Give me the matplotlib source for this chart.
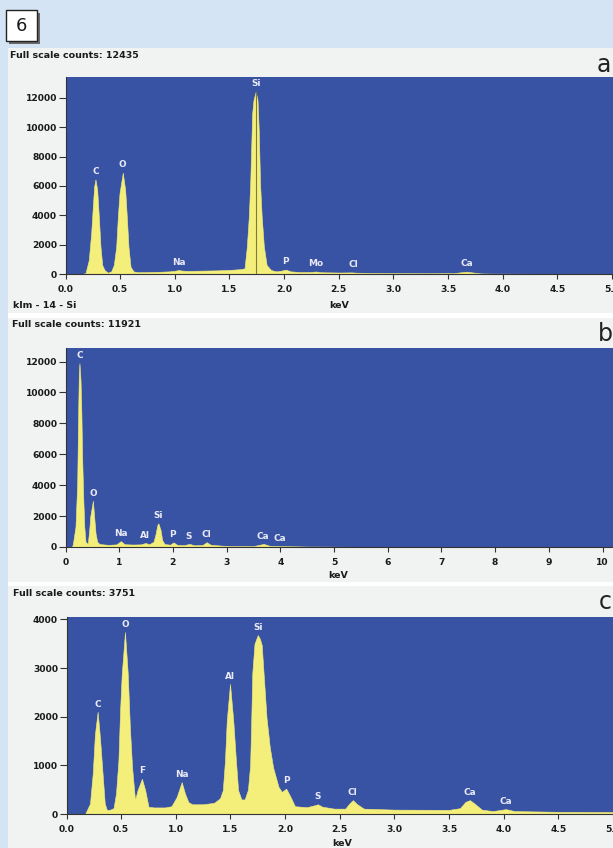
import numpy as np
import matplotlib
matplotlib.use("Agg")
import matplotlib.pyplot as plt
from matplotlib.patches import Rectangle

# ---------------- data ----------------
# Panel a : klm - 14 - Si
a_full_scale = 12435
a_energy = [0.00, 0.15, 0.183, 0.213, 0.235, 0.25, 0.262, 0.274, 0.29, 0.305, 0.32, 0.336, 0.357, 0.387,
            0.418, 0.442, 0.464, 0.479, 0.494, 0.524, 0.546, 0.561, 0.576, 0.595, 0.622, 0.66,
            0.75, 0.85, 0.95, 1.00, 1.035, 1.07, 1.12, 1.25, 1.40, 1.52, 1.60, 1.638,
            1.659, 1.677, 1.69, 1.708, 1.72, 1.74, 1.757, 1.768, 1.78, 1.795, 1.815, 1.84, 1.88, 1.93,
            1.97, 2.015, 2.06, 2.15, 2.25, 2.29, 2.34, 2.50, 2.62, 2.66, 2.80, 3.00, 3.30, 3.55,
            3.62, 3.67, 3.72, 3.80, 3.90, 4.10, 4.50, 5.00, 5.60]
a_counts = [0, 0, 60, 955, 2775, 4590, 5950, 6450, 5725, 3905, 1860, 615, 270, 90,
            180, 615, 1860, 3905, 5500, 6905, 5725, 3905, 1860, 500, 180, 120,
            130, 150, 180, 220, 270, 230, 210, 230, 250, 290, 330, 385,
            1860, 3905, 6180, 10950, 11860, 12430, 11860, 9800, 6180, 3905, 1860, 615, 270, 180,
            220, 300, 180, 130, 140, 170, 120, 100, 110, 90, 70, 60, 50, 60,
            120, 160, 110, 40, 25, 20, 12, 8, 5]
a_labels = ["C", "O", "Na", "Si", "P", "Mo", "Cl", "Ca"]
a_label_energy = [0.274, 0.524, 1.035, 1.74, 2.015, 2.29, 2.635, 3.67]
a_marker_energy = 1.74
a_x_ticks = [0.0, 0.5, 1.0, 1.5, 2.0, 2.5, 3.0, 3.5, 4.0, 4.5, 5.0]
a_y_ticks = [0, 2000, 4000, 6000, 8000, 10000, 12000]

# Panel b
b_full_scale = 11921
b_energy = [0.00, 0.12, 0.137, 0.186, 0.218, 0.236, 0.248, 0.26, 0.28, 0.296, 0.31, 0.33, 0.35,
            0.373, 0.415, 0.447, 0.46, 0.51, 0.534, 0.56, 0.59, 0.635, 0.80, 0.95, 1.03, 1.10,
            1.25, 1.40, 1.49, 1.56, 1.64, 1.68, 1.71, 1.73, 1.77, 1.80, 1.845, 1.95, 2.01, 2.08,
            2.20, 2.31, 2.40, 2.55, 2.63, 2.70, 2.90, 3.10, 3.50, 3.69, 3.80, 4.00, 4.50, 5.00,
            5.50, 6.50, 8.00, 10.50]
b_counts = [0, 0, 190, 1310, 4110, 8630, 11210, 11890, 10770, 8630, 5830, 3250, 1310,
            340, 190, 1310, 1955, 2990, 1955, 880, 340, 190, 140, 170, 380, 180,
            160, 170, 260, 180, 340, 880, 1420, 1530, 1100, 450, 190, 150, 300, 140,
            120, 200, 110, 130, 310, 150, 90, 60, 60, 200, 80, 60, 30, 20,
            10, 5, 3, 2]
b_labels = ["C", "O", "Na", "Al", "Si", "P", "S", "Cl", "Ca", "Ca"]
b_label_energy = [0.26, 0.51, 1.03, 1.48, 1.73, 2.0, 2.30, 2.62, 3.68, 4.0]
b_x_ticks = [0, 1, 2, 3, 4, 5, 6, 7, 8, 9, 10]
b_y_ticks = [0, 2000, 4000, 6000, 8000, 10000, 12000]

# Panel c
c_full_scale = 3751
c_energy = [0.00, 0.12, 0.17, 0.215, 0.24, 0.26, 0.285, 0.306, 0.33, 0.35, 0.37, 0.40,
            0.43, 0.453, 0.475, 0.49, 0.505, 0.535, 0.56, 0.58, 0.60, 0.627,
            0.65, 0.69, 0.72, 0.75, 0.80, 0.90, 0.96, 1.008, 1.054, 1.084, 1.115, 1.15,
            1.25, 1.35, 1.405, 1.43, 1.45, 1.466, 1.496, 1.526, 1.55, 1.57, 1.60, 1.63,
            1.66, 1.68, 1.69, 1.70, 1.72, 1.75, 1.77, 1.786, 1.83, 1.86, 1.89, 1.94, 1.97,
            2.01, 2.05, 2.09, 2.20, 2.27, 2.30, 2.34, 2.45,
            2.55, 2.59, 2.62, 2.66, 2.72, 3.00, 3.50, 3.60, 3.65, 3.69, 3.73, 3.80, 3.90, 4.02,
            4.10, 4.50, 5.00, 5.60]
c_counts = [0, 0, 0, 215, 830, 1640, 2100, 1570, 830, 215, 80, 90,
            120, 425, 1100, 2115, 2860, 3740, 2900, 1775, 960, 285,
            490, 725, 490, 150, 135, 135, 160, 350, 655, 420, 245, 200,
            200, 230, 325, 490, 1100, 1910, 2675, 1910, 1100, 490, 300, 300,
            500, 1000, 1900, 2900, 3500, 3680, 3600, 3475, 1980, 1370, 960, 555, 455,
            522, 350, 160, 140, 180, 200, 150, 110,
            110, 220, 285, 200, 110, 90, 85, 120, 250, 285, 220, 90, 60, 100,
            60, 45, 40, 35]
c_labels = ["C", "O", "F", "Na", "Al", "Si", "P", "S", "Cl", "Ca", "Ca"]
c_label_energy = [0.285, 0.535, 0.69, 1.054, 1.496, 1.75, 2.01, 2.30, 2.62, 3.69, 4.02]
c_x_ticks = [0.0, 0.5, 1.0, 1.5, 2.0, 2.5, 3.0, 3.5, 4.0, 4.5, 5.0]
c_y_ticks = [0, 1000, 2000, 3000, 4000]

# ---------------- styling ----------------
W, H = 613, 848
BG_BLUE = "#d4e4f4"
PANEL_GRAY = "#f1f2f2"
AX_BLUE = "#3953a4"
YELLOW = "#f4ee7a"
LABEL_COL = "#e9eaf6"
TEXT_DARK = "#1a1a1a"

plt.rcParams['font.family'] = ['DejaVu Sans']

fig = plt.figure(figsize=(W / 100, H / 100), dpi=100, facecolor=BG_BLUE)


def fx(x):
    return x / W


def fy(y):
    return 1 - y / H


def rect(x0, y0, x1, y1, **kw):
    r = Rectangle((fx(x0), fy(y1)), fx(x1) - fx(x0), fy(y0) - fy(y1),
                  transform=fig.transFigure, **kw)
    fig.add_artist(r)
    return r


# panel backgrounds and separators
rect(8, 48, 620, 313, facecolor=PANEL_GRAY, edgecolor='none', zorder=0)
rect(8, 313, 620, 318, facecolor='white', edgecolor='none', zorder=0)
rect(8, 318, 620, 582, facecolor=PANEL_GRAY, edgecolor='none', zorder=0)
rect(8, 582, 620, 586, facecolor='white', edgecolor='none', zorder=0)
rect(8, 586, 620, 860, facecolor=PANEL_GRAY, edgecolor='none', zorder=0)

# "6" box with shadow
rect(8.5, 12.5, 39.5, 43.5, facecolor='#6a6a6a', edgecolor='none', zorder=1)
rect(6, 10, 37, 41, facecolor='white', edgecolor='#222222', linewidth=1.0, zorder=2)
fig.text(fx(21.5), fy(26), "6", fontsize=13, ha='center', va='center', color=TEXT_DARK, zorder=3)


def make_panel(left, top, bottom, px_per_kev, xmax, energy, counts, full_scale,
               x_ticks, x_fmt, y_ticks, labels, label_energy):
    width = xmax * px_per_kev
    ax = fig.add_axes([fx(left), fy(bottom), width / W, (bottom - top) / H])
    ax.set_facecolor(AX_BLUE)
    e = np.asarray(energy, float)
    c = np.asarray(counts, float)
    ax.fill_between(e, 0, c, color=YELLOW, linewidth=0.4, edgecolor=YELLOW, zorder=2)
    ax.set_xlim(0, xmax)
    ax.set_ylim(0, full_scale * 1.08)
    ax.set_xticks(x_ticks)
    ax.set_xticklabels([x_fmt.format(v) for v in x_ticks])
    ax.set_yticks(y_ticks)
    ax.set_yticklabels([str(v) for v in y_ticks])
    ax.tick_params(axis='x', direction='out', length=3.5, width=0.8, pad=4.5,
                   labelsize=6.6, colors='#333333', labelcolor=TEXT_DARK)
    ax.tick_params(axis='y', direction='out', length=5, width=0.8, pad=1,
                   labelsize=6.6, colors='#333333', labelcolor=TEXT_DARK)
    for lab in ax.get_xticklabels() + ax.get_yticklabels():
        lab.set_fontweight('bold')
    for s in ['top', 'right']:
        ax.spines[s].set_visible(False)
    for s in ['left', 'bottom']:
        ax.spines[s].set_color('#333333')
        ax.spines[s].set_linewidth(0.8)
    for name, le in zip(labels, label_energy):
        val = np.interp(le, e, c)
        ax.annotate(name, xy=(le, val), xytext=(0, 5.6), textcoords='offset points',
                    ha='center', va='center', fontsize=6.4, fontweight='bold',
                    color=LABEL_COL, zorder=4)
    return ax


# Panel a
ax_a = make_panel(65.5, 77, 274, 109.3, 5.6, a_energy, a_counts, a_full_scale,
                  a_x_ticks, "{:.1f}", a_y_ticks, a_labels, a_label_energy)
si_top = np.interp(a_marker_energy, a_energy, a_counts)
ax_a.plot([a_marker_energy, a_marker_energy], [0, si_top], color='#7d7a3c', lw=0.8, zorder=3)

# Panel b
ax_b = make_panel(65.5, 348, 547, 53.7, 10.5, b_energy, b_counts, b_full_scale,
                  b_x_ticks, "{:d}", b_y_ticks, b_labels, b_label_energy)

# Panel c
ax_c = make_panel(66.5, 617, 814, 109.3, 5.6, c_energy, c_counts, c_full_scale,
                  c_x_ticks, "{:.1f}", c_y_ticks, c_labels, c_label_energy)

# panel texts
fs_kw = dict(fontsize=6.8, fontweight='bold', color=TEXT_DARK, va='center', ha='left')
fig.text(fx(10), fy(56), f"Full scale counts: {a_full_scale}", **fs_kw)
fig.text(fx(12), fy(325), f"Full scale counts: {b_full_scale}", **fs_kw)
fig.text(fx(13), fy(594), f"Full scale counts: {c_full_scale}", **fs_kw)

fig.text(fx(13), fy(305), "klm - 14 - Si", **fs_kw)
key_kw = dict(fontsize=6.8, fontweight='bold', color=TEXT_DARK, va='center', ha='center')
fig.text(fx(339), fy(305), "keV", **key_kw)
fig.text(fx(338), fy(576), "keV", **key_kw)
fig.text(fx(342), fy(843), "keV", **key_kw)

let_kw = dict(fontsize=17, color='#222222', va='center', ha='center')
fig.text(fx(604), fy(65), "a", **let_kw)
fig.text(fx(605), fy(334), "b", **let_kw)
fig.text(fx(605), fy(602), "c", **let_kw)

fig.savefig("out.png", dpi=100, facecolor=BG_BLUE)
